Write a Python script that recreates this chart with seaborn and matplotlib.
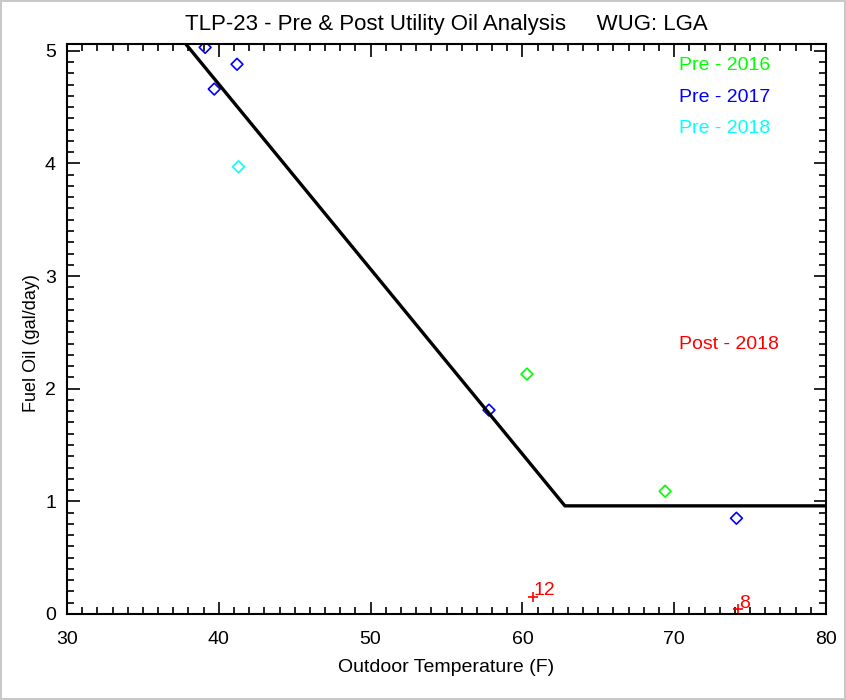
import matplotlib
matplotlib.use("Agg")
import matplotlib.pyplot as plt
import seaborn as sns
import pandas as pd
from matplotlib.ticker import MultipleLocator

# ---- data ----
pre_groups = ["Pre - 2016", "Pre - 2017", "Pre - 2018"]
group_colors = ["#00FF00", "#0000FF", "#00FFFF"]

pre2016_temp = [60.3, 69.4]
pre2016_oil = [2.13, 1.09]
pre2017_temp = [39.1, 39.7, 41.2, 57.8, 74.1]
pre2017_oil = [5.03, 4.66, 4.88, 1.81, 0.85]
pre2018_temp = [41.3]
pre2018_oil = [3.97]

post2018_temp = [60.7, 74.2]
post2018_oil = [0.15, 0.04]
post2018_labels = ["12", "8"]
post_label = "Post - 2018"

fit_temp = [37.4, 62.8, 80.0]
fit_oil = [5.13, 0.96, 0.96]

title = "TLP-23 - Pre & Post Utility Oil Analysis     WUG: LGA"
xlabel = "Outdoor Temperature (F)"
ylabel = "Fuel Oil (gal/day)"

rows = []
for g, xs, ys in zip(pre_groups, [pre2016_temp, pre2017_temp, pre2018_temp],
                     [pre2016_oil, pre2017_oil, pre2018_oil]):
    for xv, yv in zip(xs, ys):
        rows.append({"temp": xv, "oil": yv, "group": g})
pre_df = pd.DataFrame(rows)
post_df = pd.DataFrame({"temp": post2018_temp, "oil": post2018_oil, "label": post2018_labels})
fit_df = pd.DataFrame({"temp": fit_temp, "oil": fit_oil})

# ---- plot ----
sns.set_theme(style="ticks")
plt.rcParams["font.family"] = ["Liberation Sans", "DejaVu Sans"]
plt.rcParams.update({"text.color": "black", "axes.labelcolor": "black",
                     "xtick.color": "black", "ytick.color": "black"})

fig = plt.figure(figsize=(8.46, 7.0), dpi=100)
fig.patch.set_edgecolor("#c8c8c8")
fig.patch.set_linewidth(1.5)
ax = fig.add_axes([67 / 846, 1 - 614 / 700, (826 - 67) / 846, (614 - 44) / 700])

sns.lineplot(data=fit_df, x="temp", y="oil", color="black", linewidth=2.4, ax=ax,
             sort=False, legend=False)
sns.scatterplot(data=pre_df, x="temp", y="oil", hue="group",
                palette=dict(zip(pre_groups, group_colors)), marker="D", s=36,
                linewidth=1.2, legend=False, ax=ax)
# hollow diamonds: edge colours from the hue colours
for coll in ax.collections:
    fc = coll.get_facecolors()
    if len(fc):
        coll.set_edgecolors(fc)
        coll.set_facecolors("none")
sns.scatterplot(data=post_df, x="temp", y="oil", color="#FF0000", marker="+", s=60,
                linewidth=1.2, legend=False, ax=ax)
for xv, yv, lab in zip(post2018_temp, post2018_oil, post2018_labels):
    ax.text(xv + 0.05, yv + 0.055, lab, color="#FF0000", fontsize=14,
            ha="left", va="center")

# legend-like texts
for i, (g, c) in enumerate(zip(pre_groups, group_colors)):
    ax.text(0.806, 0.962 - i * 0.055, g, color=c, fontsize=14,
            transform=ax.transAxes, ha="left", va="center")
ax.text(0.806, 0.472, post_label, color="#FF0000", fontsize=14,
        transform=ax.transAxes, ha="left", va="center")

ax.set_xlim(30, 80)
ax.set_ylim(0, 5.06)
ax.xaxis.set_major_locator(MultipleLocator(10))
ax.xaxis.set_minor_locator(MultipleLocator(1))
ax.yaxis.set_major_locator(MultipleLocator(1))
ax.yaxis.set_minor_locator(MultipleLocator(0.1))
ax.tick_params(which="both", direction="in", top=True, right=True, colors="black",
               labelsize=14, width=1.2)
ax.tick_params(axis="x", which="major", length=9, pad=12)
ax.tick_params(axis="y", which="major", length=9, pad=8)
ax.tick_params(which="minor", length=5)
for sp in ax.spines.values():
    sp.set_linewidth(1.5)
    sp.set_color("black")

ax.set_xlabel(xlabel, fontsize=14, labelpad=8)
ax.set_ylabel(ylabel, fontsize=13)
ax.yaxis.set_label_coords(-0.035, 0.475)
ax.set_title(title, fontsize=16, pad=10)

fig.savefig("out.png", dpi=100)
